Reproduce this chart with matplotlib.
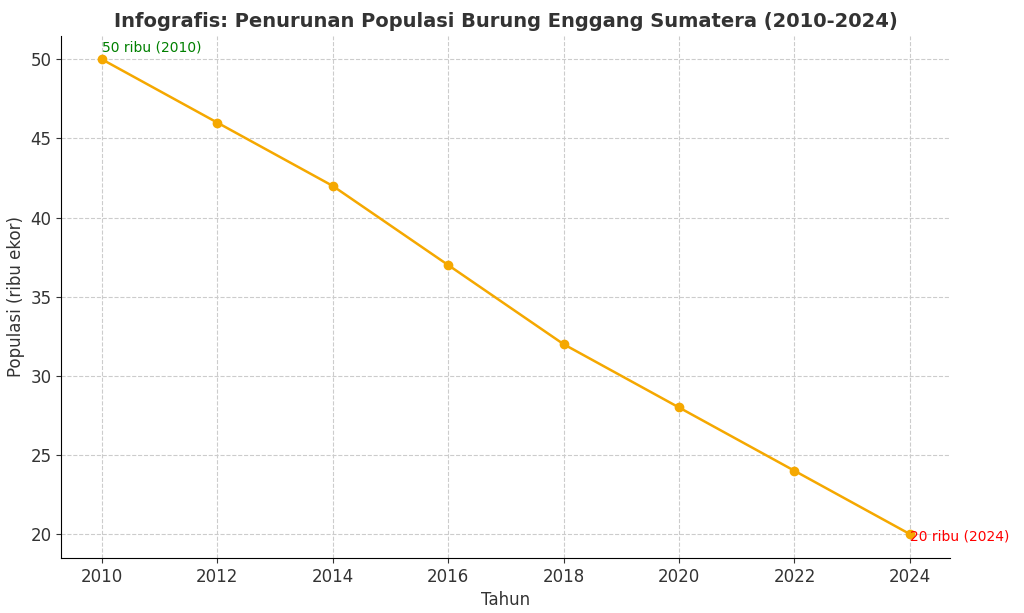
import matplotlib.pyplot as plt

years = [2010, 2012, 2014, 2016, 2018, 2020, 2022, 2024]
population = [50, 46, 42, 37, 32, 28, 24, 20]

fig, ax = plt.subplots(figsize=(10.24, 6.13), dpi=100)
ax.plot(years, population, color='#f5a800', marker='o', markersize=6, linewidth=1.8)
ax.text(years[0], population[0] + 0.5, '50 ribu (2010)', color='green', fontsize=10)
ax.text(years[-1], population[-1] - 0.4, '20 ribu (2024)', color='red', fontsize=10)

ax.set_title('Infografis: Penurunan Populasi Burung Enggang Sumatera (2010-2024)',
             fontsize=14, fontweight='bold', color='#333333')
ax.set_xlabel('Tahun', fontsize=12, color='#333333')
ax.set_ylabel('Populasi (ribu ekor)', fontsize=12, color='#333333')
ax.set_xticks(years)
ax.set_yticks([20, 25, 30, 35, 40, 45, 50])
ax.tick_params(labelsize=12, colors='#333333')
ax.set_ylim(18.5, 51.5)
ax.grid(True, linestyle='--', color='#cccccc', linewidth=0.8)
ax.spines['top'].set_visible(False)
ax.spines['right'].set_visible(False)

plt.subplots_adjust(left=0.06, right=0.928, top=0.942, bottom=0.09)
fig.savefig('out.png')
